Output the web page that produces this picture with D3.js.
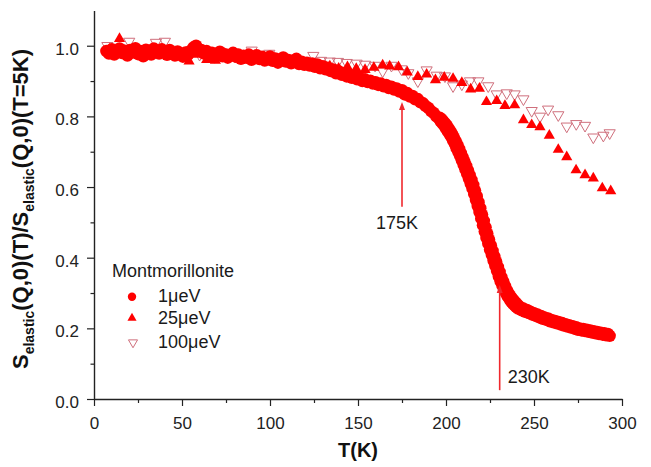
<!DOCTYPE html>
<html>
<head>
<meta charset="utf-8">
<script src="https://cdn.jsdelivr.net/npm/d3@7"></script>
<style>
  body { margin: 0; background: #fff; }
  svg { display: block; }
  text { font-family: "Liberation Sans", Arial, sans-serif; }
</style>
</head>
<body>
<svg id="chart" width="651" height="467"></svg>
<script>
// Elastic intensity of montmorillonite, normalised to T = 5 K, for three resolutions.
// Each entry is [T (K), S(T)/S(5K)].
const res1ueV = [
  [7,0.985],[8.5,0.978],[10,0.99],[11.5,0.975],[13,0.984],[14.5,0.992],[16,0.979],[17.5,0.986],
  [19,0.972],[20.5,0.988],[22,0.981],[23.5,0.993],[25,0.976],[26.5,0.985],[28,0.97],[29.5,0.989],
  [31,0.98],[32.5,0.975],[34,0.992],[35.5,0.983],[37,0.978],[38.5,0.99],[40,0.985],[41.5,0.974],
  [43,0.988],[44.5,0.98],[46,0.972],[47.5,0.984],[49,0.977],[50.5,0.969],[52,0.981],[53.5,0.975],
  [55,0.986],[56.5,0.995],[58,1.0],[59.5,0.99],[61,0.988],[62.5,0.978],[64,0.985],[65.5,0.972],
  [67,0.98],[68.5,0.968],[70,0.977],[71.5,0.983],[73,0.97],[74.5,0.976],[76,0.966],[77.5,0.974],
  [79,0.98],[80.5,0.969],[82,0.975],[83.5,0.963],[85,0.972],[86.5,0.966],[88,0.975],[89.5,0.96],
  [91,0.968],[92.5,0.973],[94,0.962],[95.5,0.969],[97,0.958],[98.5,0.966],[100,0.97],[101.5,0.957],
  [103,0.964],[104.5,0.952],[106,0.961],[107.5,0.967],[109,0.955],[110.5,0.96],[112,0.95],[113.5,0.958],
  [115,0.963],[116.5,0.948],[118,0.955],[119.5,0.946],[121,0.952],[122.5,0.944],[124,0.95],[125.5,0.94],
  [127,0.947],[128.5,0.936],[130,0.942],[131.5,0.933],[133,0.938],[134.5,0.928],[136,0.933],[137.5,0.922],
  [139,0.928],[140.5,0.918],[142,0.923],[143.5,0.913],[145,0.918],[146.5,0.909],[148,0.914],[149.5,0.905],
  [151,0.909],[152.5,0.9],[154,0.905],[155.5,0.897],[157,0.901],[158.5,0.893],[160,0.897],[161.5,0.889],
  [163,0.893],[164.5,0.885],[166,0.889],[167.5,0.88],[169,0.884],[170.5,0.876],[172,0.879],[173.5,0.87],
  [175,0.874],[176.5,0.862],[178,0.866],[179.5,0.856],[181,0.858],[182.5,0.848],[184,0.849],[185.5,0.84],
  [187,0.837],[188.5,0.829],[190,0.824],[191.5,0.815],[193,0.81],[194.5,0.8],[196,0.794],
  [196.5,0.796],[197,0.786],[197.5,0.792],[198,0.78],[198.5,0.786],[199,0.774],[199.5,0.78],[200,0.766],
  [200.5,0.774],[201,0.758],[201.5,0.766],[202,0.75],[202.5,0.758],[203,0.742],[203.5,0.75],[204,0.732],
  [204.5,0.74],[205,0.722],[205.5,0.73],[206,0.71],[206.5,0.719],[207,0.699],[207.5,0.708],[208,0.688],
  [208.5,0.696],[209,0.676],[209.5,0.684],[210,0.663],[210.5,0.672],[211,0.65],[211.5,0.66],[212,0.637],
  [212.5,0.647],[213,0.624],[213.5,0.634],[214,0.61],[214.5,0.62],[215,0.596],[215.5,0.606],[216,0.58],
  [216.5,0.59],[217,0.563],[217.5,0.574],[218,0.546],[218.5,0.557],[219,0.529],[219.5,0.54],[220,0.511],
  [220.5,0.522],[221,0.492],[221.5,0.504],[222,0.474],[222.5,0.486],[223,0.456],[223.5,0.468],[224,0.44],
  [224.5,0.451],[225,0.423],[225.5,0.435],[226,0.408],[226.5,0.419],[227,0.392],[227.5,0.404],[228,0.377],
  [228.5,0.389],[229,0.362],[229.5,0.374],[230,0.347],[230.5,0.36],[231,0.333],[231.5,0.345],[232,0.322],
  [232.5,0.333],[233,0.31],[233.5,0.32],[234,0.3],[234.5,0.309],[235,0.291],[235.5,0.3],[236,0.283],
  [236.5,0.292],[237,0.276],[237.5,0.285],[238,0.27],[238.5,0.279],[239,0.265],[239.5,0.273],[240,0.26],
  [240.5,0.268],[241,0.256],[242,0.261],[243,0.251],[244,0.256],[245,0.247],[246,0.252],[247,0.243],
  [248,0.247],[249,0.239],[250,0.243],[251,0.235],[252,0.239],[253,0.231],[254,0.235],[255,0.227],
  [256,0.231],[257,0.224],[258,0.228],[259,0.22],[260,0.224],[261,0.217],[262,0.221],[263,0.214],
  [264,0.218],[265,0.211],[266,0.215],[267,0.208],[268,0.212],[269,0.205],[270,0.209],[271,0.202],
  [272,0.206],[273,0.199],[274,0.203],[275,0.196],[276,0.2],[277,0.194],[278,0.198],[279,0.192],
  [280,0.196],[281,0.19],[282,0.194],[283,0.188],[284,0.192],[285,0.186],[286,0.19],[287,0.184],
  [288,0.188],[289,0.182],[290,0.186],[291,0.18],[292,0.184],[293,0.179]
];

const res25ueV = [
  [9,0.99],[14.5,1.02],[19,0.985],[24,0.99],[29,0.975],[34,0.985],[39,0.98],[44,0.975],[49,0.97],
  [54,0.956],[59,0.975],[64,0.96],[69,0.958],[74,0.97],[79,0.965],[84,0.968],[89,0.962],[94,0.958],
  [99,0.96],[104,0.955],[109,0.95],[114,0.948],[119,0.952],[124,0.945],[129,0.94],[134,0.942],
  [139,0.936],[144,0.94],[149,0.935],[154,0.932],[159,0.938],[164,0.945],[168,0.942],[173,0.94],
  [178,0.925],[184,0.912],[189,0.919],[194,0.903],[199,0.91],[204,0.907],[209,0.895],[214,0.877],
  [219,0.879],[223,0.841],[228.8,0.844],[233.5,0.83],[239,0.832],[244,0.79],[248.7,0.776],[253.4,0.77],
  [258.7,0.746],[263.8,0.706],[268.6,0.685],[273.9,0.648],[279,0.634],[283.7,0.625],[288.8,0.597],[293.6,0.589]
];

const res100ueV = [
  [7.6,1.0],[14,0.995],[20,1.012],[25,0.99],[30,0.985],[35.2,1.009],[40.3,1.012],[45,0.985],[50,0.98],
  [55,0.985],[60,0.975],[65,0.975],[70,0.97],[75,0.972],[80,0.97],[85,0.968],[89.6,0.987],[95,0.965],
  [99.6,0.978],[105,0.962],[110,0.958],[115,0.955],[120,0.955],[124.6,0.972],[129,0.958],[134,0.956],
  [138.6,0.955],[143.6,0.952],[149.2,0.95],[154,0.947],[159.7,0.944],[164,0.928],[169,0.944],[174.7,0.934],
  [178.6,0.923],[184,0.9],[189,0.931],[194.7,0.916],[199.4,0.914],[204,0.886],[209,0.891],[213.6,0.9],
  [218.4,0.9],[224,0.886],[228.8,0.863],[234.5,0.866],[239,0.863],[244,0.849],[248.7,0.816],[253.4,0.8],
  [258,0.82],[263.8,0.804],[268.6,0.772],[274,0.779],[279,0.774],[283.7,0.741],[289.4,0.746],[293,0.753]
];

const xMajorTicks = [0, 50, 100, 150, 200, 250, 300];
const xMinorTicks = [25, 75, 125, 175, 225, 275];
const yMajorTicks = [0.0, 0.2, 0.4, 0.6, 0.8, 1.0];
const yMinorTicks = [0.1, 0.3, 0.5, 0.7, 0.9];

const legendTitle = "Montmorillonite";
const legendLabels = ["1\u03bceV", "25\u03bceV", "100\u03bceV"];

// Transition markers: temperature, arrow base and tip (in S units), text
const transitions = [
  { T: 175, base: 0.544, tip: 0.841, label: "175K" },
  { T: 230.5, base: 0.025, tip: 0.323, label: "230K" }
];

const RED = "#ff0000";
const OPEN = "#cf6f7c";
const INK = "#222";

const svg = d3.select("#chart");

const x = d3.scaleLinear().domain([0, 300]).range([94, 622]);
const y = d3.scaleLinear().domain([0, 1.1]).range([399, 10.4]);

// ---- axes ----
svg.append("g").attr("transform", `translate(0,${y(0)})`)
  .call(d3.axisBottom(x).tickValues(xMajorTicks).tickSize(7).tickSizeOuter(0)
        .tickPadding(11).tickFormat(d3.format("d")));
svg.append("g").attr("transform", `translate(0,${y(0)})`)
  .call(d3.axisBottom(x).tickValues(xMinorTicks).tickSize(4).tickSizeOuter(0).tickFormat(""))
  .select(".domain").remove();

const yAxis = svg.append("g").attr("transform", `translate(${x(0)},0)`)
  .call(d3.axisLeft(y).tickValues(yMajorTicks).tickSize(7).tickSizeOuter(0)
        .tickPadding(8).tickFormat(d3.format(".1f")));
svg.append("g").attr("transform", `translate(${x(0)},0)`)
  .call(d3.axisLeft(y).tickValues(yMinorTicks).tickSize(3.5).tickSizeOuter(0).tickFormat(""))
  .select(".domain").remove();

svg.selectAll(".domain").attr("stroke", INK).attr("stroke-width", 1.4);
svg.selectAll(".tick line").attr("stroke", INK).attr("stroke-width", 1.2);
svg.selectAll(".tick text")
  .attr("fill", INK)
  .style("font-size", "17px")
  .style("font-family", "'Liberation Sans', Arial, sans-serif");
yAxis.selectAll(".tick text").attr("dy", "0.5em");

// axis titles
svg.append("text")
  .attr("x", x(150)).attr("y", 457)
  .attr("text-anchor", "middle")
  .style("font-size", "20px").style("font-weight", "bold")
  .attr("fill", "#111")
  .text("T(K)");

const yTitle = svg.append("text")
  .attr("transform", `translate(28,${209}) rotate(-90)`)
  .attr("text-anchor", "middle")
  .style("font-size", "22px").style("font-weight", "bold")
  .attr("fill", "#111");
yTitle.append("tspan").text("S");
yTitle.append("tspan").attr("dy", 6).style("font-size", "14px").text("elastic");
yTitle.append("tspan").attr("dy", -6).text("(Q,0)(T)/S");
yTitle.append("tspan").attr("dy", 6).style("font-size", "14px").text("elastic");
yTitle.append("tspan").attr("dy", -6).text("(Q,0)(T=5K)");

// ---- data marks ----
const upTri = d3.symbol().type(d3.symbolTriangle).size(54);

// 100 µeV: open, inverted triangles (drawn first, beneath the others)
svg.append("g").selectAll("path").data(res100ueV).join("path")
  .attr("d", upTri)
  .attr("transform", d => `translate(${x(d[0])},${y(d[1])}) rotate(180)`)
  .attr("fill", "none")
  .attr("stroke", OPEN)
  .attr("stroke-width", 1);

// 1 µeV: filled circles
svg.append("g").selectAll("circle").data(res1ueV).join("circle")
  .attr("cx", d => x(d[0]))
  .attr("cy", d => y(d[1]))
  .attr("r", 6.2)
  .attr("fill", RED);

// 25 µeV: filled triangles
svg.append("g").selectAll("path").data(res25ueV).join("path")
  .attr("d", upTri)
  .attr("transform", d => `translate(${x(d[0])},${y(d[1])})`)
  .attr("fill", RED);

// ---- transition arrows ----
const arrowColor = "#f0282d";
const ann = svg.append("g");
transitions.forEach((t, i) => {
  const px = x(t.T);
  const yTip = y(t.tip), yBase = y(t.base);
  ann.append("line")
    .attr("x1", px).attr("x2", px)
    .attr("y1", yBase).attr("y2", yTip + 6)
    .attr("stroke", arrowColor).attr("stroke-width", 1.6);
  ann.append("path")
    .attr("d", `M${px},${yTip} L${px - 3},${yTip + 8} L${px + 3},${yTip + 8} Z`)
    .attr("fill", arrowColor);
  const lbl = ann.append("text")
    .style("font-size", "18px")
    .attr("fill", "#1a1a1a")
    .text(t.label);
  if (i === 0) {
    lbl.attr("x", px - 5).attr("y", yBase + 22).attr("text-anchor", "middle");
  } else {
    lbl.attr("x", px + 8).attr("y", yBase - 7).attr("text-anchor", "start");
  }
});

// ---- legend ----
const lg = svg.append("g");
lg.append("text").attr("x", 112).attr("y", 276.7)
  .style("font-size", "18px").attr("fill", "#1a1a1a").text(legendTitle);

const rowY = [301.7, 324, 347.5];
const symX = 132;
lg.append("circle").attr("cx", symX).attr("cy", rowY[0] - 5).attr("r", 4.2).attr("fill", RED);
lg.append("path")
  .attr("d", d3.symbol().type(d3.symbolTriangle).size(36))
  .attr("transform", `translate(${symX},${rowY[1] - 6})`)
  .attr("fill", RED);
lg.append("path")
  .attr("d", d3.symbol().type(d3.symbolTriangle).size(36))
  .attr("transform", `translate(${symX + 1},${rowY[2] - 5}) rotate(180)`)
  .attr("fill", "none").attr("stroke", OPEN).attr("stroke-width", 1);

legendLabels.forEach((lab, i) => {
  lg.append("text")
    .attr("x", 158).attr("y", rowY[i])
    .style("font-size", "18px").attr("fill", "#1a1a1a")
    .text(lab);
});
</script>
</body>
</html>
